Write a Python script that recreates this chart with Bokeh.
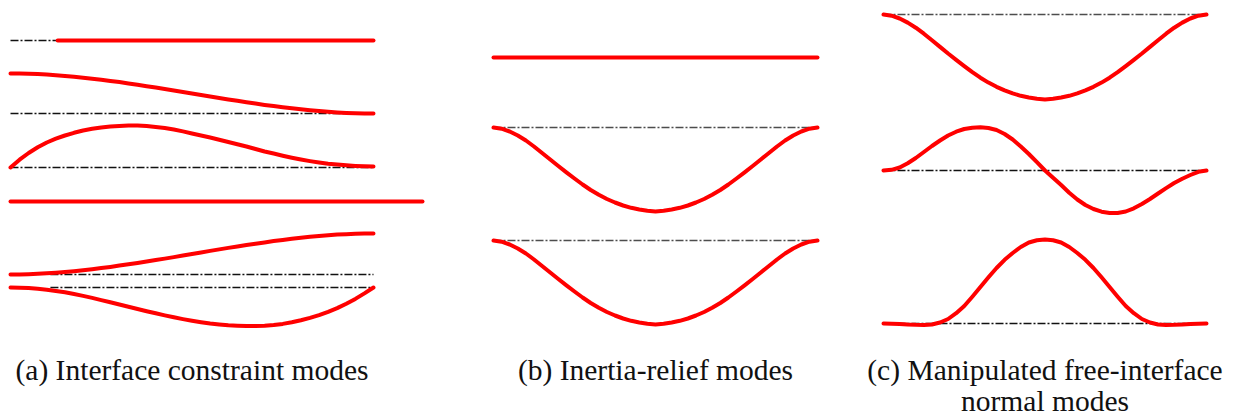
from bokeh.plotting import figure
from bokeh.models import Range1d
from bokeh.core.properties import value
from bokeh.embed import file_html
from bokeh.resources import INLINE

# Beam stations along the normalised length (0 = left end, 1 = right end)
stations = [0.000, 0.025, 0.050, 0.075, 0.100, 0.125, 0.150, 0.175, 0.200, 0.225,
            0.250, 0.275, 0.300, 0.325, 0.350, 0.375, 0.400, 0.425, 0.450, 0.475,
            0.500, 0.525, 0.550, 0.575, 0.600, 0.625, 0.650, 0.675, 0.700, 0.725,
            0.750, 0.775, 0.800, 0.825, 0.850, 0.875, 0.900, 0.925, 0.950, 0.975,
            1.000]

# (a) Interface constraint modes: transverse deflections (upward positive)
a_rigid_span = [0.13, 1.00]
a_rigid_defl = [0.0, 0.0]
a_left_unit = [40.0, 39.9, 39.7, 39.4, 38.9, 38.3, 37.6, 36.8, 35.8, 34.8,
               33.8, 32.6, 31.4, 30.1, 28.7, 27.3, 25.9, 24.5, 23.0, 21.5,
               20.0, 18.5, 17.0, 15.5, 14.1, 12.7, 11.3, 9.9, 8.6, 7.4,
               6.3, 5.2, 4.2, 3.3, 2.4, 1.7, 1.1, 0.6, 0.3, 0.1,
               0.0]
a_left_rot = [0.0, 7.8, 14.5, 20.2, 25.0, 28.8, 32.0, 34.7, 37.0, 38.7,
              40.0, 41.0, 41.6, 42.0, 42.0, 41.5, 40.6, 39.5, 38.0, 36.1,
              34.0, 32.0, 30.0, 27.8, 25.5, 23.2, 21.0, 18.5, 16.0, 14.0,
              11.8, 9.8, 8.0, 6.4, 5.0, 3.8, 2.9, 2.2, 1.6, 1.2,
              1.0]
a_axial_span = [0.00, 1.135]
a_axial_defl = [0.0, 0.0]
a_right_unit = [0.0, 0.1, 0.3, 0.7, 1.2, 1.8, 2.5, 3.3, 4.3, 5.3,
                6.4, 7.6, 8.9, 10.2, 11.6, 13.0, 14.4, 15.9, 17.4, 19.0,
                20.5, 22.0, 23.6, 25.1, 26.6, 28.0, 29.5, 30.8, 32.1, 33.4,
                34.6, 35.7, 36.7, 37.7, 38.5, 39.2, 39.9, 40.3, 40.7, 40.9,
                41.0]
a_right_rot = [0.0, -0.2, -0.6, -1.3, -2.2, -3.4, -4.8, -6.5, -8.4, -10.4,
               -12.6, -14.8, -17.0, -19.3, -21.5, -23.7, -25.8, -27.9, -29.8, -31.6,
               -33.2, -34.7, -36.0, -37.0, -37.8, -38.3, -38.6, -38.6, -38.2, -37.5,
               -36.4, -34.8, -32.8, -30.4, -27.6, -24.3, -20.6, -16.2, -11.4, -5.9,
               0.0]

# (b) Inertia-relief modes
b_rigid_defl = [0.0] * len(stations)
b_relief_1 = [0.0, -1.2, -4.0, -8.0, -13.0, -19.0, -25.5, -32.0, -38.5, -44.8,
              -51.0, -57.0, -62.5, -67.3, -71.5, -75.0, -78.0, -80.3, -82.0, -83.3,
              -84.0, -83.3, -82.0, -80.3, -78.0, -75.0, -71.5, -67.3, -62.5, -57.0,
              -51.0, -44.8, -38.5, -32.0, -25.5, -19.0, -13.0, -8.0, -4.0, -1.2,
              0.0]
b_relief_2 = [0.0, -1.2, -4.0, -8.0, -13.0, -19.0, -25.5, -32.0, -38.5, -44.8,
              -51.0, -57.0, -62.5, -67.3, -71.5, -75.0, -78.0, -80.3, -82.0, -83.3,
              -84.0, -83.3, -82.0, -80.3, -78.0, -75.0, -71.5, -67.3, -62.5, -57.0,
              -51.0, -44.8, -38.5, -32.0, -25.5, -19.0, -13.0, -8.0, -4.0, -1.2,
              0.0]

# (c) Manipulated free-interface normal modes
c_mode_1 = [0.0, -1.2, -4.0, -8.1, -13.2, -19.2, -25.8, -32.4, -39.0, -45.3,
            -51.6, -57.7, -63.2, -68.1, -72.3, -75.9, -78.9, -81.3, -83.0, -84.3,
            -85.0, -84.3, -83.0, -81.3, -78.9, -75.9, -72.3, -68.1, -63.2, -57.7,
            -51.6, -45.3, -39.0, -32.4, -25.8, -19.2, -13.2, -8.1, -4.0, -1.2,
            0.0]
c_mode_2 = [0.0, 0.7, 3.0, 7.3, 12.5, 18.5, 24.5, 30.0, 35.0, 38.8,
            41.5, 42.8, 43.2, 42.5, 40.5, 36.5, 31.0, 24.0, 16.5, 8.3,
            0.0, -7.3, -14.5, -22.2, -29.0, -34.5, -38.5, -41.2, -42.5, -42.5,
            -41.0, -37.8, -33.5, -28.5, -23.0, -17.6, -12.5, -8.2, -4.5, -1.3,
            0.0]
c_mode_3 = [0.0, -0.2, -0.5, -1.0, -1.3, -1.4, -1.0, 1.0, 4.5, 10.3,
            17.5, 26.8, 36.5, 46.2, 55.5, 63.7, 70.5, 76.5, 81.0, 83.2,
            84.0, 83.2, 81.0, 76.5, 70.5, 63.7, 55.5, 46.2, 36.5, 26.8,
            17.5, 10.3, 4.5, 1.0, -1.0, -1.4, -1.3, -1.0, -0.5, -0.2,
            0.0]

captions = {
    "a": ["(a) Interface constraint modes"],
    "b": ["(b) Inertia-relief modes"],
    "c": ["(c) Manipulated free-interface", "normal modes"],
}

# ---- layout: where each beam sits on the page (pixels) ----
W, H = 1234, 415
beam_px = {"a": (10, 373), "b": (493, 817), "c": (883, 1206)}
CAPTION_Y = 369
CAPTION_STEP = 31

RED = "#ff0000"
MODE_W = 4.0
AXIS_COLOR = "#111111"
AXIS_DASH = "8 2 2 2"

p = figure(width=W, height=H, output_backend="svg", toolbar_location=None,
           x_axis_type=None, y_axis_type=None, min_border=0,
           x_range=Range1d(0, W), y_range=Range1d(H, 0))
p.outline_line_color = None
p.background_fill_color = "white"
p.border_fill_color = "white"

for key, (x0, x1) in beam_px.items():
    length = x1 - x0
    p.extra_x_ranges[key] = Range1d(-x0 / length, (W - x0) / length)


def baseline(panel, level, s0=0.0, s1=1.0, color=AXIS_COLOR):
    p.line(x=[s0, s1], y=[level, level], x_range_name=panel,
           line_color=color, line_width=1.4, line_dash=AXIS_DASH)


def mode(panel, level, s, defl):
    p.line(x=s, y=[level - d for d in defl], x_range_name=panel,
           line_color=RED, line_width=MODE_W, line_cap="round", line_join="round")


# panel (a)
baseline("a", 40)
mode("a", 40, a_rigid_span, a_rigid_defl)
baseline("a", 113)
mode("a", 113, stations, a_left_unit)
baseline("a", 167)
mode("a", 167, stations, a_left_rot)
mode("a", 201, a_axial_span, a_axial_defl)
baseline("a", 274, s0=0.11)
mode("a", 274, stations, a_right_unit)
baseline("a", 287, s0=0.11)
mode("a", 287, stations, a_right_rot)

# panel (b)
mode("b", 57, stations, b_rigid_defl)
baseline("b", 127, color="#4d4d4d")
mode("b", 127, stations, b_relief_1)
baseline("b", 240, color="#4d4d4d")
mode("b", 240, stations, b_relief_2)

# panel (c)
baseline("c", 14, color="#4d4d4d")
mode("c", 14, stations, c_mode_1)
baseline("c", 170)
mode("c", 170, stations, c_mode_2)
baseline("c", 323)
mode("c", 323, stations, c_mode_3)

# captions centred under each beam
for key, lines in captions.items():
    p.text(x=[0.5] * len(lines),
           y=[CAPTION_Y + i * CAPTION_STEP for i in range(len(lines))],
           text=lines, x_range_name=key,
           text_align="center", text_baseline="alphabetic",
           text_font=value("Liberation Serif"), text_font_size="29.5px",
           text_color="#111111")

open("out.html", "w").write(file_html(p, INLINE))
